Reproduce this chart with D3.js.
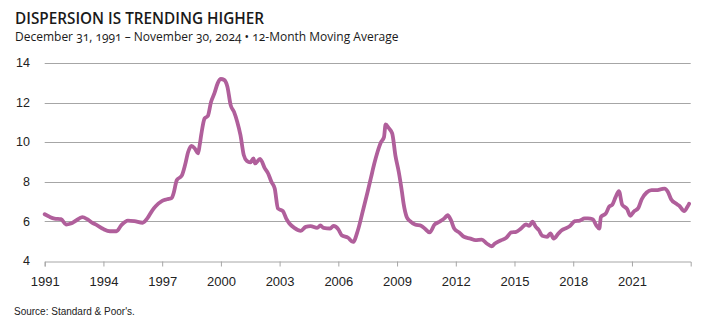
<!DOCTYPE html>
<html>
<head>
<meta charset="utf-8">
<script src="https://cdn.jsdelivr.net/npm/d3@7"></script>
<style>
  body { margin: 0; background: #fff; }
  svg { display: block; }
</style>
</head>
<body>
<script>
// dispersion, 12-month moving average
const dates = [
  "1991-12","1992-03","1992-06","1992-10","1993-01","1993-04","1993-07","1993-11",
  "1994-02","1994-05","1994-08","1994-12","1995-04","1995-08","1995-11","1996-03",
  "1996-07","1996-12","1997-03","1997-06","1997-08","1997-12","1998-03","1998-06",
  "1998-07","1998-09","1998-12","1999-02","1999-04","1999-06","1999-08","1999-10",
  "1999-11","1999-12","2000-02","2000-04","2000-06","2000-08","2000-10","2000-12",
  "2001-02","2001-04","2001-06","2001-08","2001-10","2001-12","2002-02","2002-04",
  "2002-06","2002-08","2002-09","2002-12","2003-03","2003-05","2003-07","2003-09",
  "2003-11","2004-02","2004-04","2004-06","2004-09","2005-01","2005-04","2005-07",
  "2005-11","2006-01","2006-03","2006-07","2006-09","2006-12","2007-02","2007-06",
  "2007-09","2007-12","2008-03","2008-06","2008-08","2008-10","2008-12","2009-02",
  "2009-04","2009-05","2009-07","2009-09","2009-11","2010-01","2010-03","2010-04",
  "2010-06","2010-08","2010-11","2011-03","2011-05","2011-08","2011-11","2012-02",
  "2012-05","2012-07","2012-09","2012-11","2013-02","2013-05","2013-09","2013-12",
  "2014-04","2014-07","2014-10","2014-12","2015-04","2015-07","2015-10","2016-01",
  "2016-04","2016-07","2016-09","2016-11","2017-01","2017-03","2017-05","2017-08",
  "2017-10","2017-12","2018-03","2018-05","2018-08","2018-10","2019-01","2019-04",
  "2019-07","2019-09","2019-12","2020-02","2020-04","2020-05","2020-08","2020-10",
  "2020-12","2021-02","2021-04","2021-06","2021-09","2021-11","2022-01","2022-04",
  "2022-06","2022-09","2022-12","2023-03","2023-06","2023-08","2023-10","2023-12",
  "2024-03","2024-05","2024-08","2024-10","2024-11"
];
const dispersion = [
  6.35,6.22,6.13,6.10,5.83,5.88,6.02,6.20,
  6.10,5.93,5.80,5.60,5.49,5.49,5.80,6.03,
  6.00,5.92,6.15,6.55,6.75,7.03,7.11,7.18,
  7.40,8.08,8.30,8.84,9.51,9.81,9.68,9.43,
  9.85,10.39,11.20,11.32,12.04,12.46,12.97,13.19,
  13.14,12.80,11.87,11.54,11.03,10.35,9.34,9.04,
  8.97,9.17,8.92,9.15,8.67,8.41,7.99,7.65,
  6.64,6.51,6.14,5.88,5.66,5.51,5.71,5.75,
  5.66,5.78,5.66,5.63,5.76,5.59,5.29,5.16,
  4.95,5.54,6.50,7.50,8.20,8.90,9.50,9.98,
  10.25,10.89,10.70,10.44,9.30,8.50,7.50,6.90,
  6.20,6.00,5.83,5.76,5.63,5.43,5.83,5.97,
  6.14,6.30,6.05,5.63,5.43,5.21,5.12,5.04,
  5.07,4.87,4.73,4.87,5.04,5.16,5.43,5.46,
  5.63,5.83,5.76,5.97,5.71,5.54,5.26,5.21,
  5.38,5.12,5.38,5.54,5.66,5.76,6.00,6.03,
  6.14,6.14,6.10,5.80,5.63,6.22,6.39,6.73,
  6.84,7.23,7.52,6.84,6.61,6.27,6.47,6.68,
  7.11,7.45,7.57,7.57,7.62,7.65,7.49,7.11,
  6.89,6.78,6.51,6.73,6.88
];
const yTicks = [4, 6, 8, 10, 12, 14];
const xTickYears = [1991, 1994, 1997, 2000, 2003, 2006, 2009, 2012, 2015, 2018, 2021];

const title = "DISPERSION IS TRENDING HIGHER";
const subtitle = "December 31, 1991 \u2013 November 30, 2024 \u2022 12-Month Moving Average";
const source = "Source: Standard & Poor's.";

const width = 716, height = 326;
const plotLeft = 44.7, plotRight = 690.7, plotTop = 63, plotBottom = 260.7;
const lineColor = "#b05f9b", gridColor = "#a6a6a6";

const parse = d3.utcParse("%Y-%m");
const data = dates.map((d, i) => ({ date: parse(d), value: dispersion[i] }));

const x = d3.scaleUtc()
  .domain([parse("1991-12"), parse("2024-12")])
  .range([plotLeft, plotRight]);
const y = d3.scaleLinear().domain([4, 14]).range([plotBottom, plotTop]);

const svg = d3.select("body").append("svg")
  .attr("width", width)
  .attr("height", height);

svg.append("text")
  .attr("x", 15).attr("y", 24)
  .attr("font-family", "'Open Sans', sans-serif")
  .attr("font-size", 15.3).attr("font-weight", 600)
  .attr("fill", "#1a1a1a")
  .text(title);

svg.append("text")
  .attr("x", 15).attr("y", 40.5)
  .attr("font-family", "'Open Sans', sans-serif")
  .attr("font-size", 12)
  .style("font-feature-settings", "'onum'")
  .attr("fill", "#1a1a1a")
  .text(subtitle);

// gridlines
svg.append("g")
  .selectAll("line")
  .data(yTicks.filter(t => t > 4))
  .join("line")
    .attr("x1", plotLeft).attr("x2", plotRight)
    .attr("y1", d => Math.round(y(d)) + 0.5)
    .attr("y2", d => Math.round(y(d)) + 0.5)
    .attr("stroke", gridColor).attr("stroke-width", 1);

// y labels
svg.append("g")
  .selectAll("text")
  .data(yTicks)
  .join("text")
    .attr("x", 30)
    .attr("y", d => y(d))
    .attr("dy", "0.35em")
    .attr("text-anchor", "end")
    .attr("font-family", "'Liberation Sans', sans-serif")
    .attr("font-size", 12.5)
    .attr("fill", "#222")
    .text(d => d);

// x axis
const xAxis = d3.axisBottom(x)
  .tickValues(xTickYears.map(yr => parse(yr + "-12")))
  .tickFormat(d => d.getUTCFullYear())
  .tickSizeOuter(0)
  .tickSize(5)
  .tickPadding(10);

const gx = svg.append("g")
  .attr("transform", `translate(0,${Math.round(plotBottom) + 0.5})`)
  .call(xAxis);
gx.select(".domain").attr("stroke", gridColor);
gx.selectAll(".tick line").attr("stroke", gridColor);
gx.selectAll(".tick text")
  .attr("font-family", "'Liberation Sans', sans-serif")
  .attr("font-size", 13)
  .attr("fill", "#222");

// series
const line = d3.line()
  .x(d => x(d.date))
  .y(d => y(d.value))
  .curve(d3.curveMonotoneX);

svg.append("path")
  .datum(data)
  .attr("fill", "none")
  .attr("stroke", lineColor)
  .attr("stroke-width", 3.8)
  .attr("stroke-linejoin", "round")
  .attr("stroke-linecap", "round")
  .attr("d", line);

svg.append("text")
  .attr("x", 14).attr("y", 315)
  .attr("font-family", "'Liberation Sans', sans-serif")
  .attr("font-size", 10)
  .attr("fill", "#222")
  .text(source);
</script>
</body>
</html>
